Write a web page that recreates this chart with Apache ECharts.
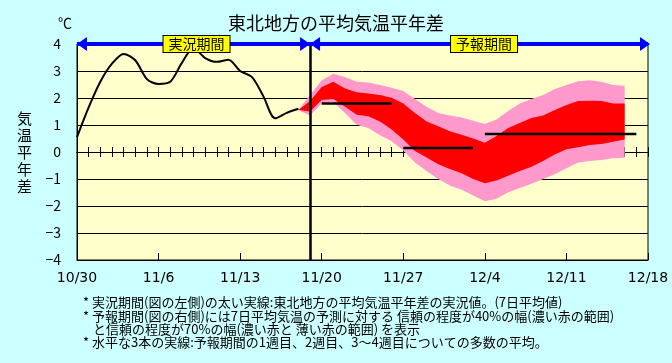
<!DOCTYPE html>
<html><head><meta charset="utf-8">
<script src="https://cdn.jsdelivr.net/npm/echarts@6/dist/echarts.min.js"></script>
<style>html,body{margin:0;padding:0;background:#CCFFFF;}#c{width:672px;height:363px;}</style>
</head><body><div id="c"></div>
<script>
// Day offsets counted from 10/30 (day 0)
const xTickLabels = ['10/30','11/6','11/13','11/20','11/27','12/4','12/11','12/18'];
// observed 7-day mean anomaly, days 0..19
const obsValues = [0.55, 1.65, 2.6, 3.27, 3.63, 3.4, 2.7, 2.52, 2.6, 3.3, 3.85, 3.48, 3.34, 3.42, 3.0, 2.78, 2.06, 1.25, 1.45, 1.6];
// forecast bands, days 19..47
const fcStartDay = 19;
const pinkUpper = [1.56, 2.11, 2.66, 2.9, 2.78, 2.6, 2.57, 2.48, 2.38, 2.26, 1.96, 1.68, 1.44, 1.35, 1.28, 1.16, 1.04, 1.2, 1.52, 1.8, 1.96, 2.11, 2.33, 2.48, 2.62, 2.66, 2.6, 2.48, 2.45];
const redUpper  = [1.56, 1.89, 2.41, 2.6, 2.35, 2.21, 2.17, 2.11, 2.01, 1.8, 1.44, 1.13, 0.95, 0.77, 0.64, 0.5, 0.34, 0.59, 0.89, 1.07, 1.26, 1.35, 1.56, 1.74, 1.89, 1.9, 1.89, 1.8, 1.8];
const redLower  = [1.56, 1.5, 1.93, 1.96, 1.68, 1.38, 1.32, 1.13, 0.83, 0.46, 0.04, -0.2, -0.45, -0.63, -0.79, -1.0, -1.16, -1.06, -0.88, -0.7, -0.55, -0.33, -0.09, 0.1, 0.18, 0.26, 0.3, 0.38, 0.46];
const pinkLower = [1.56, 1.35, 1.8, 1.84, 1.44, 1.01, 0.89, 0.62, 0.4, 0.06, -0.39, -0.7, -1.0, -1.24, -1.4, -1.61, -1.82, -1.73, -1.49, -1.33, -1.18, -1.0, -0.82, -0.6, -0.39, -0.33, -0.3, -0.23, -0.21];
// weekly ensemble means
const weekStart = [21, 28, 35];
const weekEnd   = [27, 34, 48];
const weekMean  = [1.8, 0.15, 0.67];
const boundaryDay = 20;
const lastDay = 49;
const arrowY = 4;
const periodNames = ['実況期間', '予報期間'];
const footnotes = [
  '* 実況期間(図の左側)の太い実線:東北地方の平均気温平年差の実況値。(7日平均値)',
  '* 予報期間(図の右側)には7日平均気温の予測に対する 信頼の程度が40%の幅(濃い赤の範囲)',
  'と信頼の程度が70%の幅(濃い赤と 薄い赤の範囲) を表示',
  '* 水平な3本の実線:予報期間の1週目、2週目、3～4週目についての多数の平均。'
];

const FONT = '"Noto Sans CJK JP", "Noto Sans", sans-serif';
const fcDays = pinkUpper.map((_, i) => fcStartDay + i);
const obsData = obsValues.map((v, i) => [i, v]);
const bandDefs = [
  { upper: pinkUpper, lower: pinkLower, color: '#FF99CC' },
  { upper: redUpper, lower: redLower, color: '#FF0000' }
];

const weekSeries = weekStart.map((s, i) => ({
  type: 'line', data: [[s, weekMean[i]], [weekEnd[i], weekMean[i]]],
  symbol: 'none', silent: true, lineStyle: { color: '#000', width: 2.5 }, z: 4
}));

const arrowHeads = [
  { value: [0, arrowY], symbolRotate: 90, symbolOffset: [5, 0] },
  { value: [boundaryDay, arrowY], symbolRotate: -90, symbolOffset: [-5, 0] },
  { value: [boundaryDay, arrowY], symbolRotate: 90, symbolOffset: [5, 0] },
  { value: [lastDay, arrowY], symbolRotate: -90, symbolOffset: [-3, 0] }
];

const footLeft = [83, 83, 93, 83];
const footGraphics = footnotes.map((t, i) => ({
  type: 'text', left: footLeft[i], top: 296 + i * 13.2, silent: true,
  style: { text: t, font: '13px ' + FONT, fill: '#000' }
}));

const chart = echarts.init(document.getElementById('c'), null, { renderer: 'canvas' });
chart.setOption({
  backgroundColor: '#CCFFFF',
  animation: false,
  title: [
    { text: '東北地方の平均気温平年差', left: 'center', top: 9,
      textStyle: { fontSize: 18, fontWeight: 'normal', fontFamily: FONT, color: '#000' } },
    { text: '℃', left: 53, top: 11,
      textStyle: { fontSize: 14, fontWeight: 'normal', fontFamily: FONT, color: '#000' } }
  ],
  grid: { left: 77, top: 44, width: 571, height: 216, show: true,
    backgroundColor: '#FFFFCC', borderColor: '#000', borderWidth: 1 },
  xAxis: [
    { type: 'value', min: 0, max: lastDay, interval: 7, position: 'bottom',
      axisLine: { onZero: false, lineStyle: { color: '#000', width: 1 } },
      axisTick: { show: true, inside: true, length: 7, lineStyle: { color: '#000' } },
      axisLabel: { formatter: v => xTickLabels[Math.round(v / 7)], fontSize: 14, margin: 11,
        color: '#000', fontFamily: '"DejaVu Sans", sans-serif' },
      splitLine: { show: false } },
    { type: 'value', min: 0, max: lastDay, interval: 1,
      axisLine: { onZero: true, onZeroAxisIndex: 0, lineStyle: { color: '#000', width: 1 } },
      axisTick: { show: true, inside: true, length: 5, lineStyle: { color: '#000' } },
      axisLabel: { show: false }, splitLine: { show: false } },
    { type: 'value', min: 0, max: lastDay, interval: 1,
      axisLine: { onZero: true, onZeroAxisIndex: 0, lineStyle: { color: '#000', width: 1 } },
      axisTick: { show: true, inside: false, length: 5, lineStyle: { color: '#000' } },
      axisLabel: { show: false }, splitLine: { show: false } }
  ],
  yAxis: {
    type: 'value', min: -4, max: 4, interval: 1,
    name: '気\n温\n平\n年\n差', nameLocation: 'middle', nameGap: 45, nameRotate: 0,
    nameTextStyle: { fontSize: 15, lineHeight: 17, color: '#000', fontFamily: FONT },
    axisLine: { show: true, onZero: false, lineStyle: { color: '#000' } },
    axisTick: { show: false },
    axisLabel: { formatter: v => v < 0 ? '−' + Math.abs(v) : String(v), fontSize: 14,
      margin: 16, color: '#000', fontFamily: FONT },
    splitLine: { show: true, lineStyle: { color: '#000', width: 1 } }
  },
  graphic: footGraphics,
  series: [
    { type: 'custom', name: 'bands', silent: true, z: 2,
      data: bandDefs.map((b, i) => [fcStartDay, b.upper[0]]),
      encode: { x: 0, y: 1 },
      renderItem: (params, api) => {
        const b = bandDefs[params.dataIndex];
        const top = fcDays.map((d, i) => api.coord([d, b.upper[i]]));
        const bot = fcDays.map((d, i) => api.coord([d, b.lower[i]])).reverse();
        return { type: 'polygon', shape: { points: top.concat(bot) },
          style: { fill: b.color, stroke: null } };
      } },
    { type: 'line', name: 'obs', data: obsData, symbol: 'none', smooth: 0.3, silent: true,
      lineStyle: { color: '#000', width: 2 }, z: 3,
      markLine: { silent: true, symbol: 'none', animation: false, label: { show: false },
        lineStyle: { color: '#000', width: 2.5, type: 'solid' },
        data: [{ xAxis: boundaryDay }] } },
    ...weekSeries,
    { type: 'line', name: 'period', data: [], z: 5, symbol: 'none', silent: true,
      markLine: { silent: true, animation: false, symbol: 'none',
        lineStyle: { color: '#0000FF', width: 4, type: 'solid', opacity: 1 },
        label: { show: true, position: 'insideMiddle', formatter: p => p.name,
          color: '#000', fontSize: 14, fontFamily: FONT, backgroundColor: '#FFFF00',
          borderColor: '#000', borderWidth: 1, padding: [0, 5], lineHeight: 16, distance: 0 },
        emphasis: { disabled: true },
        data: [
          [{ name: periodNames[0], coord: [0, arrowY], label: { offset: [3, 0] } }, { coord: [boundaryDay, arrowY] }],
          [{ name: periodNames[1], coord: [boundaryDay, arrowY], label: { offset: [5, 0] } }, { coord: [lastDay, arrowY] }]
        ] } },
    { type: 'scatter', name: 'arrows', data: arrowHeads, symbol: 'triangle',
      symbolSize: [14, 10], silent: true, clip: false, z: 6,
      itemStyle: { color: '#0000FF', opacity: 1 } }
  ]
});
</script></body></html>
